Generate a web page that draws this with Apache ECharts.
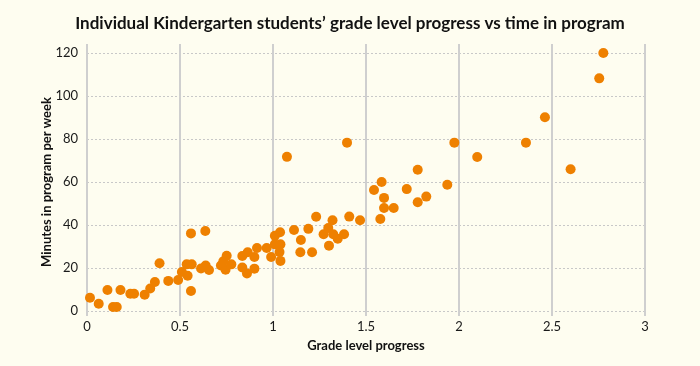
<!DOCTYPE html>
<html>
<head>
<meta charset="utf-8">
<script src="https://cdn.jsdelivr.net/npm/echarts@6/dist/echarts.min.js"></script>
<style>
html,body{margin:0;padding:0;background:#FEFDF0;}
#chart{width:700px;height:366px;}
</style>
</head>
<body>
<div id="chart"></div>
<script>
const titleText = "Individual Kindergarten students\u2019 grade level progress vs time in program";
const xName = "Grade level progress";
const yName = "Minutes in program per week";
const xTicks = [0, 0.5, 1, 1.5, 2, 2.5, 3];
const yTicks = [0, 20, 40, 60, 80, 100, 120];

const gradeProgress = [
  0.016, 0.063, 0.11, 0.14, 0.16, 0.18, 0.233, 0.253, 0.31, 0.34,
  0.365, 0.39, 0.437, 0.49, 0.51, 0.536, 0.563, 0.541, 0.559, 0.559,
  0.613, 0.636, 0.638, 0.656, 0.72, 0.733, 0.745, 0.751, 0.776, 0.835,
  0.835, 0.864, 0.86, 0.9, 0.9, 0.914, 0.966, 0.99, 1.01, 1.01,
  1.038, 1.04, 1.035, 1.04, 1.075, 1.113, 1.15, 1.147, 1.19, 1.21,
  1.232, 1.272, 1.297, 1.301, 1.32, 1.324, 1.348, 1.382, 1.398, 1.41,
  1.468, 1.543, 1.577, 1.584, 1.597, 1.597, 1.649, 1.719, 1.778, 1.778,
  1.824, 1.937, 1.975, 2.098, 2.36, 2.462, 2.6, 2.754, 2.776
];
const minutesPerWeek = [
  6.2, 3.4, 9.8, 1.9, 1.9, 9.8, 8, 8, 7.6, 10.5,
  13.5, 22.2, 14, 14.4, 18.1, 21.7, 21.7, 16.4, 36.1, 9.3,
  19.8, 37.2, 21.2, 19.1, 21.2, 23.1, 19.2, 25.7, 21.7, 25.6,
  20.2, 27.3, 17.5, 25.1, 19.7, 29.3, 29.3, 25.1, 35, 31,
  36.6, 31, 27.4, 23.3, 71.7, 37.7, 33, 27.3, 38.2, 27.3,
  43.8, 35.7, 38.6, 30.4, 42.2, 35.7, 33.6, 35.7, 78.3, 43.9,
  42.2, 56.3, 42.8, 60, 52.6, 47.9, 47.9, 56.7, 65.7, 50.6,
  53.2, 58.7, 78.3, 71.6, 78.3, 90.1, 65.9, 108.2, 120
];

const points = gradeProgress.map((x, i) => [x, minutesPerWeek[i]]);
const FONT = "Lato";
const chart = echarts.init(document.getElementById('chart'), null, {renderer: 'canvas'});
chart.setOption({
  backgroundColor: '#FEFDF0',
  animation: false,
  title: {
    text: titleText,
    left: 'center',
    top: 10,
    textStyle: {fontFamily: FONT, fontWeight: 'bold', fontSize: 17, color: '#111'}
  },
  grid: {left: 87, right: 55, top: 53, bottom: 55},
  xAxis: [{
    type: 'value',
    min: 0, max: 3, interval: 0.5,
    name: xName,
    nameLocation: 'middle',
    nameGap: 28,
    nameTextStyle: {fontFamily: FONT, fontWeight: 'bold', fontSize: 13, color: '#111'},
    axisLine: {show: false},
    axisTick: {show: true, length: 5, lineStyle: {color: '#cfcfcf', width: 2}},
    axisLabel: {fontFamily: FONT, fontSize: 13, color: '#1a1a1a', margin: 9,
      formatter: v => xTicks.includes(v) ? String(v) : ''},
    splitLine: {show: true, lineStyle: {color: '#cfcfcf', width: 2, type: 'solid'}}
  }, {
    type: 'value',
    position: 'top',
    min: 0, max: 3, interval: 0.5,
    axisLine: {show: false},
    axisTick: {show: true, length: 9, lineStyle: {color: '#cfcfcf', width: 2}},
    axisLabel: {show: false},
    splitLine: {show: false}
  }],
  yAxis: {
    type: 'value',
    min: 0, max: 120, interval: 20,
    name: yName,
    nameLocation: 'middle',
    nameRotate: 90,
    nameGap: 34,
    nameMoveOverlap: false,
    nameTextStyle: {fontFamily: FONT, fontWeight: 'bold', fontSize: 13, color: '#111'},
    axisLine: {show: false},
    axisTick: {show: false},
    axisLabel: {fontFamily: FONT, fontSize: 13, color: '#1a1a1a', margin: 9,
      formatter: v => yTicks.includes(v) ? String(v) : ''},
    splitLine: {show: true, lineStyle: {color: '#c8c8c8', width: 1, type: [2, 2]}}
  },
  series: [{
    type: 'scatter',
    xAxisIndex: 0,
    data: points,
    symbol: 'circle',
    symbolSize: 10,
    itemStyle: {color: '#EE8000', opacity: 1}
  }]
});
</script>
</body>
</html>
